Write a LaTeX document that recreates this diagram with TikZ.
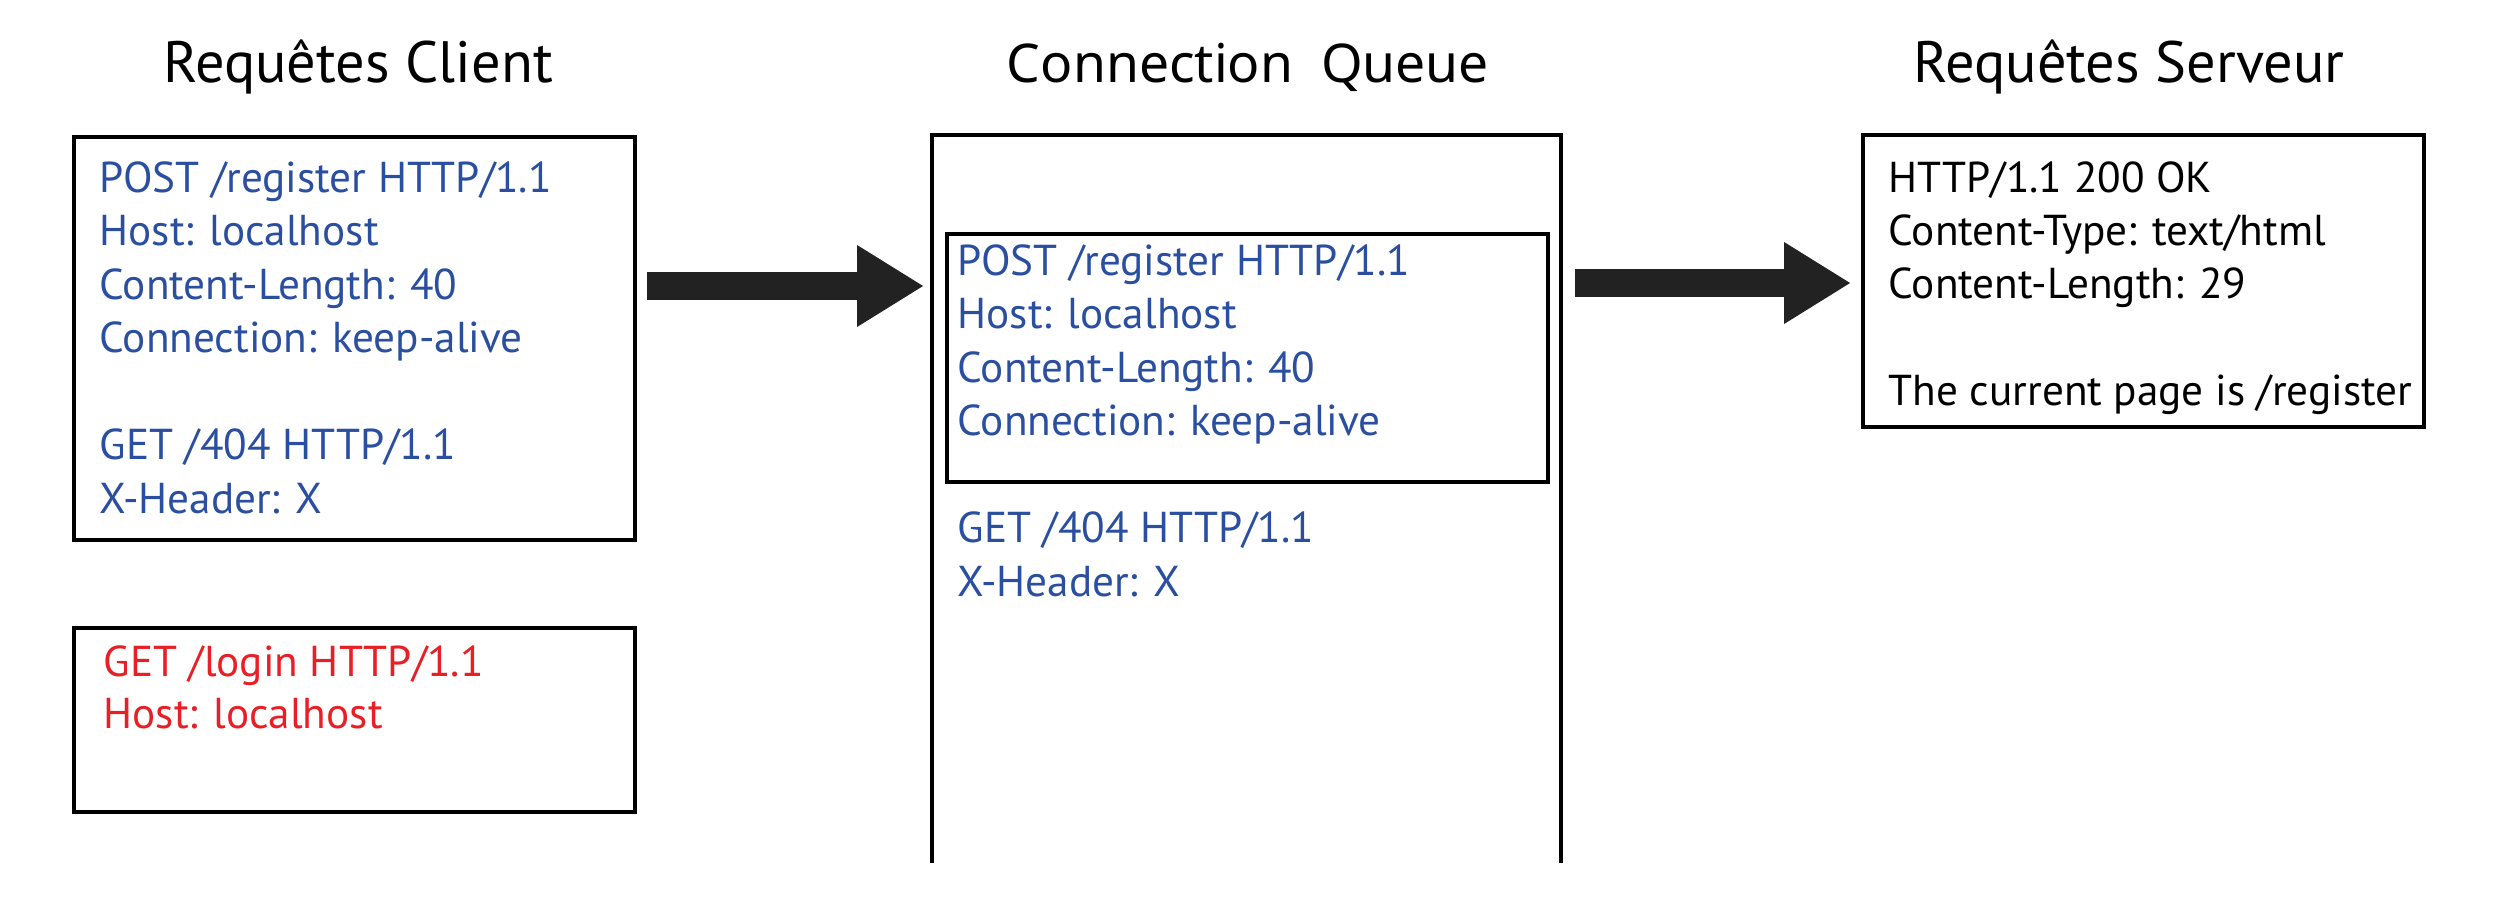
\documentclass[tikz,border=0pt]{standalone}
\usepackage{fontspec}
\setmainfont{PT Sans}
\newfontfamily\queuefont{Noto Sans}
\usetikzlibrary{arrows.meta}
\definecolor{rqInk}{RGB}{34,34,34}
\definecolor{rqBlue}{RGB}{43,79,160}
\definecolor{rqRed}{RGB}{232,32,38}
\begin{document}
\begin{tikzpicture}[box/.style={draw=black, line width=1pt, inner sep=0pt, outer sep=0pt}, frame/.style={line width=1pt, black}, line/.style={anchor=base west, inner sep=0pt, font=\fontsize{12.3}{15}\selectfont}, req/.style={line, text=rqBlue}, bad/.style={line, text=rqRed}, resp/.style={line, text=black}, title/.style={anchor=base, inner sep=0pt, font=\fontsize{16.6}{20}\selectfont}, bigarrow/.style={line width=0.28cm, rqInk, -{Triangle[length=0.67cm, width=0.77cm]}}]
\useasboundingbox (0,0) rectangle (25,9.11);
% titles
\node[title] (tclient) at (3.58,8.29) {Requêtes Client};
\node[title, font=\queuefont\fontsize{15.2}{18}\selectfont] (tqueue) at (12.48,8.29) {Connection\ \ Queue};
\node[title] (tserver) at (21.29,8.29) {Requêtes Serveur};
% boxes
\node[box, minimum width=5.61cm, minimum height=4.03cm] (client) at (3.544,5.725) {};
\node[box, minimum width=5.61cm, minimum height=1.84cm] (login) at (3.544,1.91) {};
\node[inner sep=0pt, outer sep=0pt, minimum width=6.29cm, minimum height=7.28cm] (queue) at (12.465,4.12) {};
\draw[frame] (queue.south west) -- (queue.north west) -- (queue.north east) -- (queue.south east);
\node[box, minimum width=6.01cm, minimum height=2.48cm] (inner) at (12.475,5.53) {};
\node[box, minimum width=5.61cm, minimum height=2.92cm] (server) at (21.435,6.30) {};
% client requests
\node[req] (c1) at (0.99,7.19) {POST /register HTTP/1.1};
\node[req] (c2) at (0.99,6.655) {Host: localhost};
\node[req] (c3) at (0.99,6.12) {Content-Length: 40};
\node[req] (c4) at (0.99,5.585) {Connection: keep-alive};
\node[req] (c5) at (0.99,4.515) {GET /404 HTTP/1.1};
\node[req] (c6) at (0.99,3.98) {X-Header: X};
\node[bad] (r1) at (1.03,2.35) {GET /login HTTP/1.1};
\node[bad] (r2) at (1.03,1.83) {Host: localhost};
% queued requests
\node[req] (q1) at (9.57,6.36) {POST /register HTTP/1.1};
\node[req] (q2) at (9.57,5.825) {Host: localhost};
\node[req] (q3) at (9.57,5.29) {Content-Length: 40};
\node[req] (q4) at (9.57,4.755) {Connection: keep-alive};
\node[req] (q5) at (9.57,3.69) {GET /404 HTTP/1.1};
\node[req] (q6) at (9.57,3.15) {X-Header: X};
% server response
\node[resp] (s1) at (18.88,7.19) {HTTP/1.1 200 OK};
\node[resp] (s2) at (18.88,6.66) {Content-Type: text/html};
\node[resp] (s3) at (18.88,6.13) {Content-Length: 29};
\node[resp] (s4) at (18.88,5.06) {The current page is /register};
% arrows
\coordinate (lvlA) at (0,6.25);
\coordinate (lvlB) at (0,6.28);
\draw[bigarrow, shorten <=0.12cm, shorten >=0.08cm] (client.east |- lvlA) -- (queue.west |- lvlA);
\draw[bigarrow, shorten <=0.14cm, shorten >=0.12cm] (queue.east |- lvlB) -- (server.west |- lvlB);
\end{tikzpicture}
\end{document}
